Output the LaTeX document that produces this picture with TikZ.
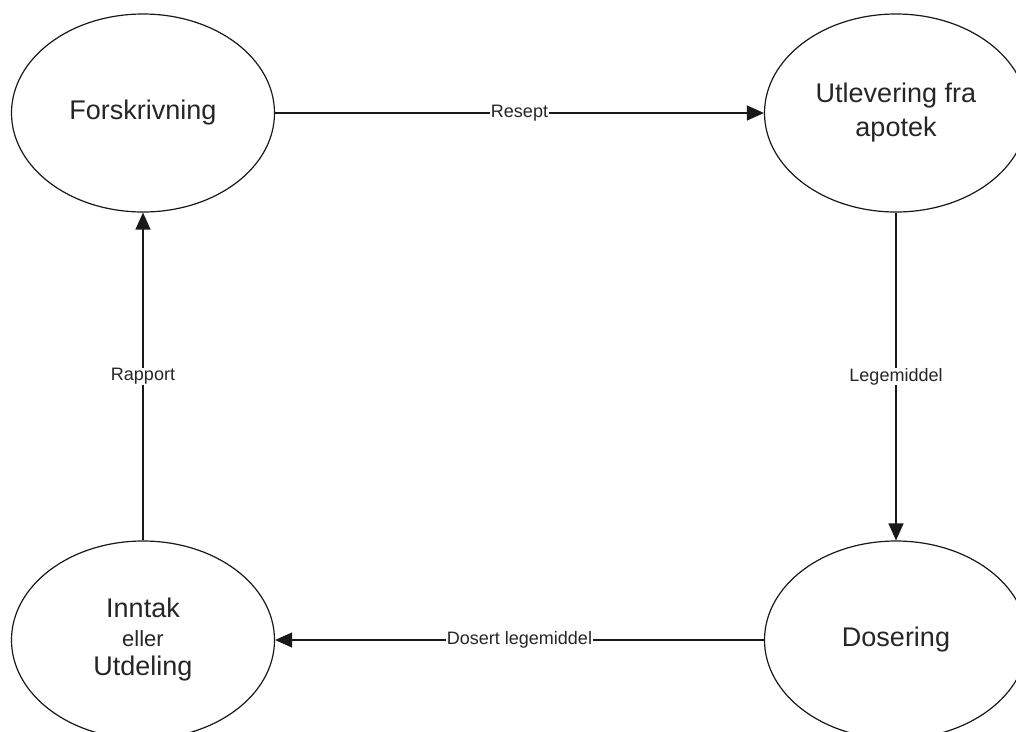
\documentclass[tikz,border=0pt]{standalone}
\usepackage{fontspec}
\setmainfont{Liberation Sans}
\usetikzlibrary{shapes.geometric,arrows.meta}
\begin{document}
\begin{tikzpicture}[x=1pt,y=-1pt,
  state/.style={draw=black!90, line width=1.2pt, ellipse, minimum width=263pt,
    minimum height=198pt, inner sep=0pt, align=center, text=black!85,
    font=\fontsize{27}{34}\selectfont},
  flow/.style={draw=black!90, line width=1.3pt,
    -{Triangle[length=17pt,width=15pt]}},
  tag/.style={fill=white, inner sep=0.6pt, text=black!85,
    font=\fontsize{18}{22}\selectfont}]
  \useasboundingbox (0,0) rectangle (1016,731);
  \fill[white] (0,0) rectangle (1016,731);

  \node[state] (forskr) at (143,113) {Forskrivning};
  \node[state] (utlev) at (896,113) {Utlevering fra\\apotek};
  \node[state] (dose) at (896,640) {Dosering};
  \node[state, font=\fontsize{27}{29}\selectfont] (inntak) at (143,640)
    {Inntak\\{\fontsize{22}{29}\selectfont eller}\\Utdeling};

  \draw[flow] (forskr.east) -- node[tag] {Resept} (utlev.west);
  \draw[flow] (utlev.south) -- node[tag] {Legemiddel} (dose.north);
  \draw[flow] (dose.west) -- node[tag] {Dosert legemiddel} (inntak.east);
  \draw[flow] (inntak.north) -- node[tag] {Rapport} (forskr.south);
\end{tikzpicture}
\end{document}
